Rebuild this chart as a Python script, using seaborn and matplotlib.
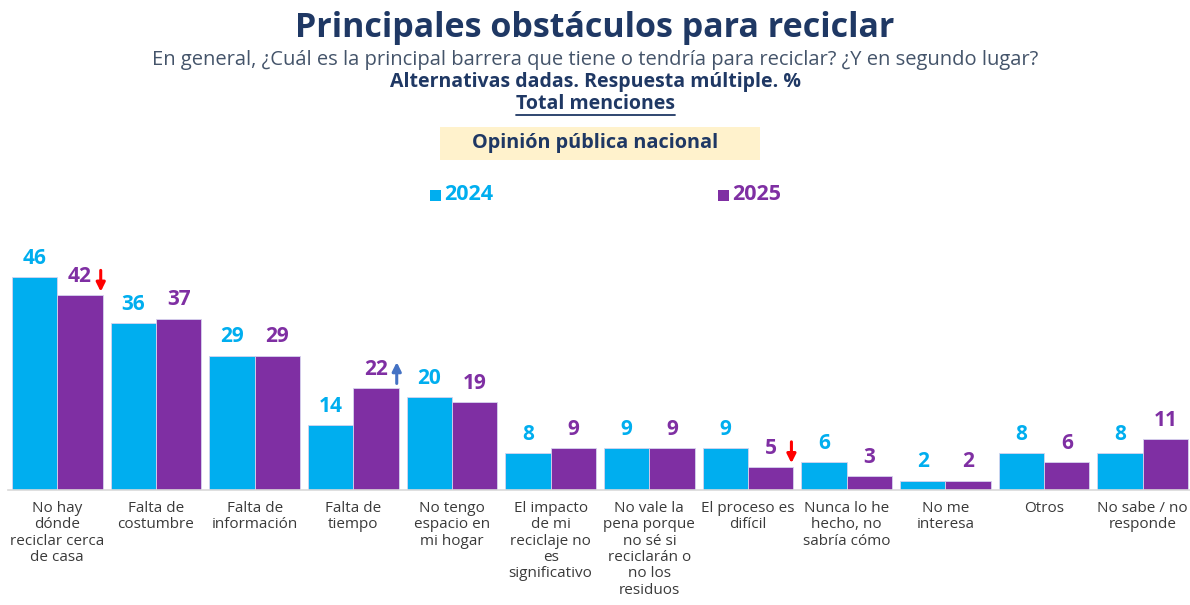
import pandas as pd
import matplotlib.pyplot as plt
import seaborn as sns
from matplotlib.patches import Rectangle
from matplotlib.lines import Line2D

categories = [
    "No hay\ndónde\nreciclar cerca\nde casa",
    "Falta de\ncostumbre",
    "Falta de\ninformación",
    "Falta de\ntiempo",
    "No tengo\nespacio en\nmi hogar",
    "El impacto\nde mi\nreciclaje no\nes\nsignificativo",
    "No vale la\npena porque\nno sé si\nreciclarán o\nno los\nresiduos",
    "El proceso es\ndifícil",
    "Nunca lo he\nhecho, no\nsabría cómo",
    "No me\ninteresa",
    "Otros",
    "No sabe / no\nresponde",
]
v2024 = [46, 36, 29, 14, 20, 8, 9, 9, 6, 2, 8, 8]
v2025 = [42, 37, 29, 22, 19, 9, 9, 5, 3, 2, 6, 11]
years = ["2024", "2025"]
# (category index, direction) of the change arrows on 2025 bars
arrows = [(0, "down"), (3, "up"), (7, "down")]

BLUE = "#00AEEF"
PURPLE = "#7F2FA3"
NAVY = "#1F3864"

df = pd.DataFrame({
    "cat": list(range(len(categories))) * 2,
    "year": [years[0]] * len(v2024) + [years[1]] * len(v2025),
    "value": v2024 + v2025,
})

sns.set_style("white")
plt.rcParams["font.family"] = ["Open Sans", "DejaVu Sans"]

fig = plt.figure(figsize=(11.9, 6.05), dpi=100)
ax = fig.add_axes([0.0067, 0.19, 0.995, 0.383])

sns.barplot(data=df, x="cat", y="value", hue="year", palette=[BLUE, PURPLE],
            width=0.92, gap=0, saturation=1, edgecolor="#d6d3ee", linewidth=0.6,
            legend=False, ax=ax)

ax.set_xlim(-0.5, len(categories) - 0.5)
ax.set_ylim(0, 50)
ax.set_xlabel("")
ax.set_ylabel("")
ax.set_yticks([])
ax.set_xticks(range(len(categories)))
ax.set_xticklabels(categories, fontsize=11, color="#3a3a3a", linespacing=1.12)
ax.tick_params(axis="x", length=0, pad=8)
for s in ["top", "right", "left"]:
    ax.spines[s].set_visible(False)
ax.spines["bottom"].set_color("#d9d9d9")
ax.spines["bottom"].set_linewidth(1.2)

for cont, col in zip(ax.containers, [BLUE, PURPLE]):
    ax.bar_label(cont, fmt="%d", padding=6, color=col, fontsize=15,
                 fontweight="bold")

for i, d in arrows:
    x = i + 0.23 + 0.21
    v = v2025[i]
    if d == "down":
        tail, tip, col = v + 5.4, v + 0.8, "red"
    else:
        tail, tip, col = v + 1.0, v + 5.6, "#4472C4"
    ax.annotate("", xy=(x, tip), xytext=(x, tail),
                arrowprops=dict(arrowstyle="-|>", color=col, lw=2.2,
                                mutation_scale=13, shrinkA=0, shrinkB=0))

# header texts
fig.text(0.5, 1 - 28 / 605, "Principales obstáculos para reciclar", ha="center",
         va="center", fontsize=24.5, fontweight="bold", color=NAVY)
fig.text(0.5, 1 - 60 / 605,
         "En general, ¿Cuál es la principal barrera que tiene o tendría para reciclar? ¿Y en segundo lugar?",
         ha="center", va="center", fontsize=14.5, color="#44546A")
fig.text(0.5, 1 - 82 / 605, "Alternativas dadas. Respuesta múltiple. %", ha="center",
         va="center", fontsize=14, fontweight="bold", color=NAVY)
t = fig.text(0.5, 1 - 104 / 605, "Total menciones", ha="center", va="center",
             fontsize=14, fontweight="bold", color=NAVY)
fig.canvas.draw()
bb = t.get_window_extent().transformed(fig.transFigure.inverted())
fig.add_artist(Line2D([bb.x0, bb.x1], [1 - 115 / 605] * 2, color=NAVY, lw=1.3))

fig.add_artist(Rectangle((440 / 1190, 1 - 160 / 605), 320 / 1190, 33 / 605,
                         transform=fig.transFigure, facecolor="#FFF2CC",
                         edgecolor="none"))
fig.text(0.5, 1 - 143 / 605, "Opinión pública nacional", ha="center", va="center",
         fontsize=14.3, fontweight="bold", color=NAVY)

# legend
for x0, yr, col in [(430, years[0], BLUE), (718, years[1], PURPLE)]:
    fig.add_artist(Rectangle((x0 / 1190, 1 - 201 / 605), 11 / 1190, 11 / 605,
                             transform=fig.transFigure, facecolor=col,
                             edgecolor="none"))
    fig.text((x0 + 14) / 1190, 1 - 195 / 605, yr, ha="left", va="center",
             fontsize=15.5, fontweight="bold", color=col)

fig.savefig("out.png", dpi=100)
